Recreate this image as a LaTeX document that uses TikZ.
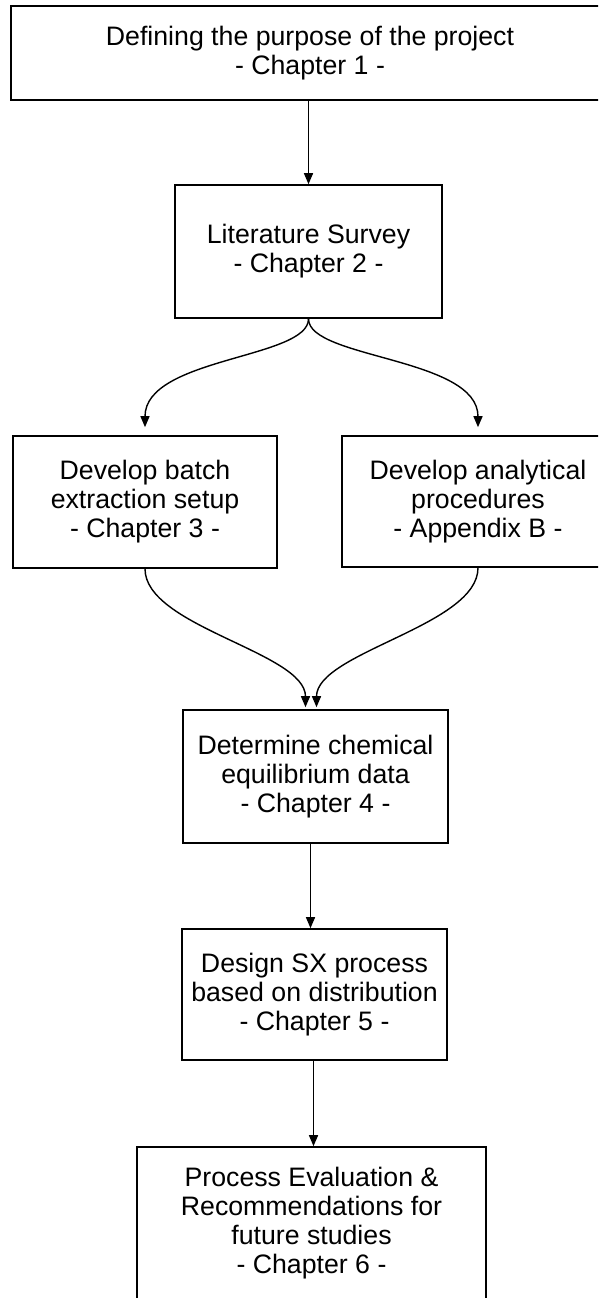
\documentclass[tikz,border=0pt]{standalone}
\usepackage{fontspec}
\setmainfont{Liberation Sans}
\usetikzlibrary{arrows.meta}
\begin{document}
\begin{tikzpicture}[x=1pt,y=-1pt,
  box/.style={draw=black, line width=1.6pt, align=center, inner sep=0pt,
    font=\fontsize{26.7pt}{29pt}\selectfont},
  conn/.style={line width=1.4pt, -{Triangle[length=11pt,width=9pt]}}]
\path[use as bounding box, clip] (0,0) rectangle (598,1298);
\fill[white] (0,0) rectangle (598,1298);
\node[box, minimum width=598pt, minimum height=94pt] (b1) at (310,53)
  {Defining the purpose of the project\\- Chapter 1 -};
\node[box, minimum width=267pt, minimum height=133pt] (b2) at (308.5,251.5)
  {Literature Survey\\- Chapter 2 -};
\node[box, minimum width=264pt, minimum height=132pt] (b3) at (145,502)
  {Develop batch\\extraction setup\\- Chapter 3 -};
\node[box, minimum width=272pt, minimum height=131pt] (b4) at (478,501.5)
  {Develop analytical\\procedures\\- Appendix B -};
\node[box, minimum width=265pt, minimum height=133pt] (b5) at (315.5,776.5)
  {Determine chemical\\equilibrium data\\- Chapter 4 -};
\node[box, minimum width=265pt, minimum height=131pt] (b6) at (314.5,994.5)
  {Design SX process\\based on distribution\\- Chapter 5 -};
\node[box, minimum width=349pt, minimum height=152pt] (b7) at (311.5,1223)
  {Process Evaluation \&\\Recommendations for\\future studies\\- Chapter 6 -};
\coordinate (a56) at ([xshift=-5pt]b5.south);
\coordinate (a67) at ([xshift=-1pt]b6.south);
\draw[conn] (b1.south -| b2.north) -- (b2.north);
\draw[conn] (b2.south) .. controls +(0,40) and +(0,-70) .. ([yshift=8pt]b3.north);
\draw[conn] (b2.south) .. controls +(0,40) and +(0,-70) .. ([yshift=8pt]b4.north);
\draw[conn] (b3.south) .. controls +(0,58) and +(0,-55) .. ([xshift=-10pt,yshift=2pt]b5.north);
\draw[conn] (b4.south) .. controls +(0,58) and +(0,-55) .. ([xshift=1pt,yshift=2pt]b5.north);
\draw[conn] (a56) -- (a56 |- b6.north);
\draw[conn] (a67) -- (a67 |- b7.north);
\end{tikzpicture}
\end{document}
